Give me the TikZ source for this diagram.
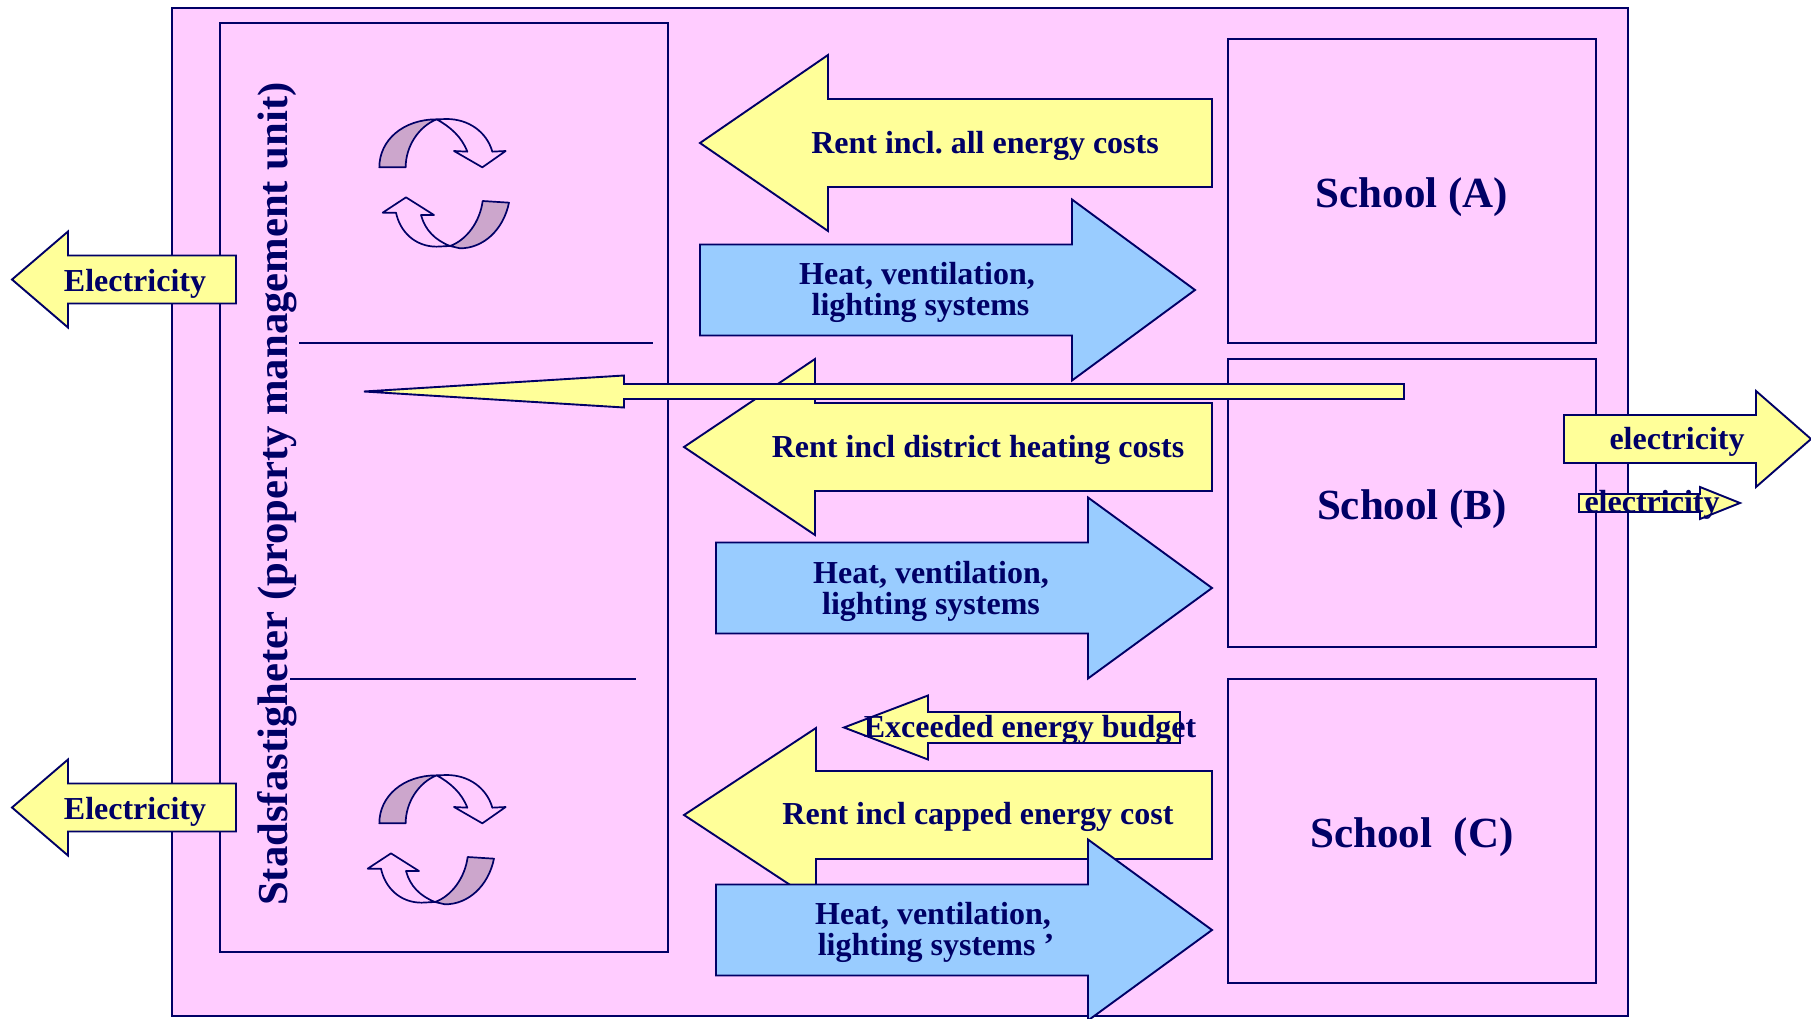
\documentclass[tikz,border=0pt]{standalone}
\usepackage{fontspec}
\setmainfont{Liberation Serif}
\frenchspacing
\definecolor{navyline}{HTML}{000066}
\definecolor{pinkbg}{HTML}{FFCCFF}
\definecolor{yellowfill}{HTML}{FFFF99}
\definecolor{bluefill}{HTML}{99CCFF}
\definecolor{mauvefill}{HTML}{CCA6CC}
\newcommand{\blockleft}[7]{\draw[#1] (#2,#5) -- (#3,#5-#7) -- (#3,#5-#6) -- (#4,#5-#6) -- (#4,#5+#6) -- (#3,#5+#6) -- (#3,#5+#7) -- cycle;}
\newcommand{\blockright}[7]{\draw[#1] (#2,#5-#6) -- (#3,#5-#6) -- (#3,#5-#7) -- (#4,#5) -- (#3,#5+#7) -- (#3,#5+#6) -- (#2,#5+#6) -- cycle;}
\tikzset{
    panel/.style={draw=navyline, line width=1.9pt, fill=pinkbg, inner sep=0pt},
    yellowarrow/.style={draw=navyline, line width=1.9pt, fill=yellowfill, line join=miter},
    bluearrow/.style={draw=navyline, line width=1.9pt, fill=bluefill, line join=miter},
    label/.style={text=navyline, font=\fontsize{32}{31}\selectfont\bfseries, align=center, inner sep=0pt},
    schoollabel/.style={label, font=\fontsize{43}{46}\selectfont\bfseries},
    cyclepart/.style={draw=navyline, line width=1.7pt, line join=round},
    cycleup/.pic={
        \draw[cyclepart, fill=mauvefill] (118,232) .. controls (118,150) and (190,88) .. (290,88) .. controls (235,110) and (197,170) .. (197,232) -- cycle;
        \draw[cyclepart] (290,88) -- (320,87) .. controls (385,87) and (440,125) .. (457,185) -- (497,183) -- (427,232) -- (342,183) -- (382,185) .. controls (365,140) and (330,110) .. (290,88);
    },
    cycledown/.pic={
        \draw[cyclepart, fill=mauvefill] (428,333) -- (507,338) .. controls (490,420) and (430,475) .. (360,475) -- (330,468) .. controls (380,450) and (420,395) .. (428,333) -- cycle;
        \draw[cyclepart] (330,468) -- (290,470) .. controls (225,470) and (180,425) .. (168,368) -- (128,368) -- (198,322) -- (282,375) -- (243,375) .. controls (255,420) and (285,450) .. (330,468);
    }
}
\begin{document}
\begin{tikzpicture}[x=1pt, y=-1pt]
\useasboundingbox (0,0) rectangle (1811,1019);
% boxes
\node[panel, minimum width=1456pt, minimum height=1008pt] (estate) at (900,512) {};
\node[panel, minimum width=448pt, minimum height=929pt] (stads) at (444,487.5) {};
\node[panel, minimum width=368pt, minimum height=304pt] (schoolA) at (1412,191) {};
\node[panel, minimum width=368pt, minimum height=288pt] (schoolB) at (1412,503) {};
\node[panel, minimum width=368pt, minimum height=304pt] (schoolC) at (1412,831) {};
\node[schoollabel] (labelA) at (1412,197) {School (A)};
\node[schoollabel] (labelB) at (1412,509) {School (B)};
\node[schoollabel] (labelC) at (1412,837) {School\ \ (C)};
% dividers
\coordinate (upperL) at (299,343);
\coordinate (upperR) at (653,343);
\coordinate (lowerL) at (290,679);
\coordinate (lowerR) at (636,679);
\draw[navyline, line width=1.6pt] (upperL) -- (upperR);
\draw[navyline, line width=1.6pt] (lowerL) -- (lowerR);
% cycles
\pic[shift={(340,90)}, scale=1/3] {cycleup};
\pic[shift={(340,90)}, scale=1/3] {cycledown};
\pic[shift={(340,746)}, scale=1/3] {cycleup};
\pic[shift={(325,746)}, scale=1/3] {cycledown};
\node[label, rotate=90, font=\fontsize{42.7}{46}\selectfont\bfseries] (stadslabel) at (277,494) {Stadsfastigheter (property management unit)};
% arrows to the side
\blockleft{yellowarrow}{12}{68}{236}{279.5}{24}{48}
\blockleft{yellowarrow}{12}{68}{236}{807.5}{24}{48}
\blockright{yellowarrow}{1564}{1756}{1811}{439}{24}{48}
\blockright{yellowarrow}{1579}{1700}{1740}{503}{9}{16}
\node[label] (elecTop) at (135,284) {Electricity};
\node[label] (elecBottom) at (135,812) {Electricity};
\node[label] (elecBig) at (1677,442) {electricity};
\node[label] (elecSmall) at (1652,505) {electricity};
% rent and systems
\blockleft{yellowarrow}{700}{828}{1212}{143}{44}{88}
\blockright{bluearrow}{700}{1072}{1195}{290}{45.5}{90.5}
\blockleft{yellowarrow}{684}{815}{1212}{447}{44}{88}
\blockleft{yellowarrow}{364}{624}{1404}{391.5}{7.5}{16}
\blockright{bluearrow}{716}{1088}{1212}{588}{45.5}{90.5}
\blockleft{yellowarrow}{844}{928}{1180}{727.5}{15.5}{32}
\blockleft{yellowarrow}{684}{816}{1212}{815}{44}{87}
\blockright{bluearrow}{716}{1088}{1212}{930}{45.5}{90.5}
\node[label] (rentA) at (985,146) {Rent incl. all energy costs};
\node[label] (heatA) at (917,292) {Heat, ventilation,\\\hspace*{7pt}lighting systems};
\node[label] (rentB) at (978,450) {Rent incl district heating costs};
\node[label] (heatB) at (931,591) {Heat, ventilation,\\lighting systems};
\node[label] (budget) at (1030,730) {Exceeded energy budget};
\node[label] (rentC) at (978,817) {Rent incl capped energy cost};
\node[label] (heatC) at (933,932) {Heat, ventilation,\\\hspace*{6pt}lighting systems ’};
\end{tikzpicture}
\end{document}
